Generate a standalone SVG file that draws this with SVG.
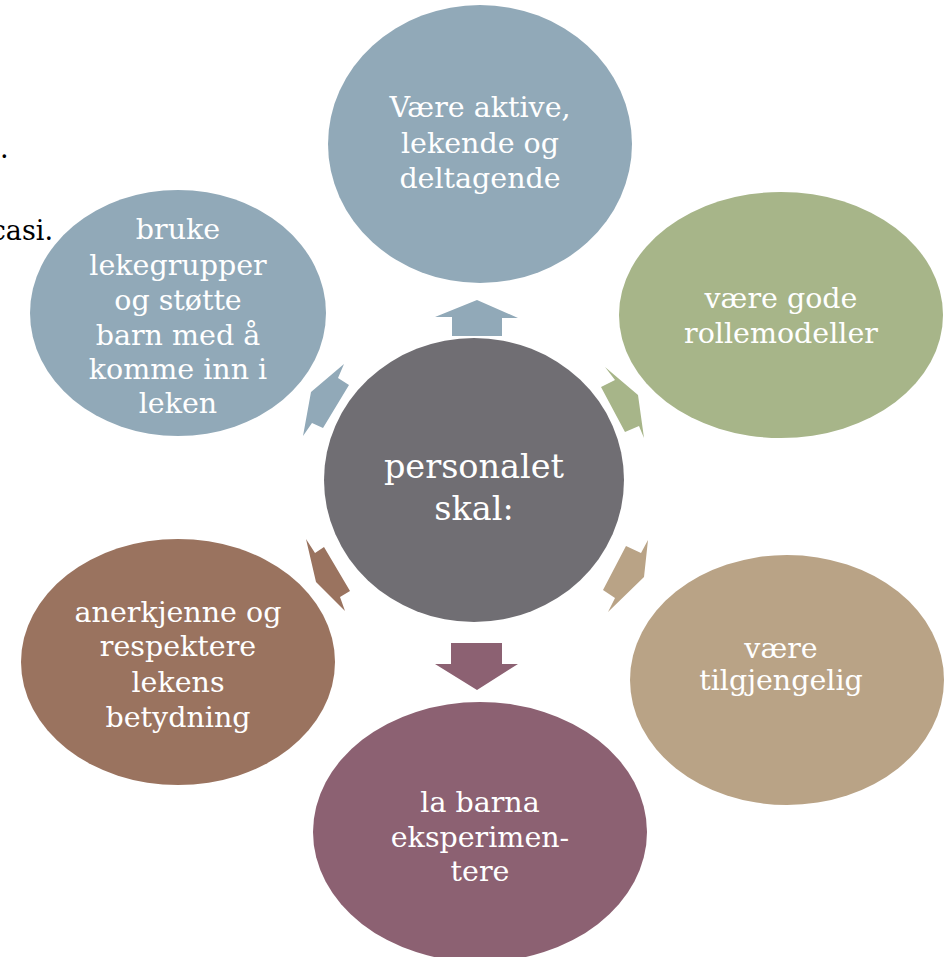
<svg xmlns="http://www.w3.org/2000/svg" width="951" height="957" viewBox="0 0 951 957">
<style>
.t{font-family:"DejaVu Serif","Liberation Serif",serif;fill:#fff;text-anchor:middle;font-size:28.5px}
.c{font-size:33.5px}
.k{font-family:"DejaVu Serif","Liberation Serif",serif;fill:#000;font-size:27px}
</style>
<rect width="951" height="957" fill="#fff"/>
<text class="k" x="0" y="158">.</text>
<text class="k" x="53" y="240" text-anchor="end">casi.</text>
<g id="connectors">
<polygon points="452,336 452,317 435,317 477,300 518,318 502,318 502,336" fill="#91A9B8"/>
<polygon points="605,367 615,380 601,387 625,432 639,426 644,438 638,395" fill="#A7B589"/>
<polygon points="648,540 641,553 626,546 603,590 615,598 608,612 644,577" fill="#B9A386"/>
<polygon points="451,643 502,643 502,664 518,664 477,690 435,664 451,664" fill="#8C6172"/>
<polygon points="306,539 315,553 324,547 350,591 340,597 345,611 316,582" fill="#9A735F"/>
<polygon points="344,364 338,378 349,385 323,428 312,423 303,436 311,392" fill="#91A9B8"/>
</g>
<g id="center">
<ellipse cx="474" cy="480" rx="150" ry="142" fill="#706E73"/>
<text class="t c" x="474" y="478">personalet</text>
<text class="t c" x="474" y="520">skal:</text>
</g>
<g id="top">
<ellipse cx="480" cy="144" rx="152" ry="139" fill="#91A9B8"/>
<text class="t" x="480" y="117">Være aktive,</text>
<text class="t" x="480" y="153">lekende og</text>
<text class="t" x="480" y="188">deltagende</text>
</g>
<g id="topright">
<ellipse cx="781" cy="315" rx="162" ry="123" fill="#A7B589"/>
<text class="t" x="781" y="308">være gode</text>
<text class="t" x="781" y="343">rollemodeller</text>
</g>
<g id="bottomright">
<ellipse cx="787" cy="680" rx="157" ry="125" fill="#B9A386"/>
<text class="t" x="781" y="658">være</text>
<text class="t" x="781" y="690">tilgjengelig</text>
</g>
<g id="bottom">
<ellipse cx="480" cy="832" rx="167" ry="130" fill="#8C6172"/>
<text class="t" x="480" y="812">la barna</text>
<text class="t" x="480" y="847">eksperimen-</text>
<text class="t" x="480" y="881">tere</text>
</g>
<g id="bottomleft">
<ellipse cx="178" cy="662" rx="157" ry="123" fill="#9A735F"/>
<text class="t" x="178" y="622">anerkjenne og</text>
<text class="t" x="178" y="656">respektere</text>
<text class="t" x="178" y="692">lekens</text>
<text class="t" x="178" y="727">betydning</text>
</g>
<g id="topleft">
<ellipse cx="178" cy="313" rx="148" ry="123" fill="#91A9B8"/>
<text class="t" x="178" y="239">bruke</text>
<text class="t" x="178" y="275">lekegrupper</text>
<text class="t" x="178" y="310">og støtte</text>
<text class="t" x="178" y="345">barn med å</text>
<text class="t" x="178" y="379">komme inn i</text>
<text class="t" x="178" y="413">leken</text>
</g>
</svg>
